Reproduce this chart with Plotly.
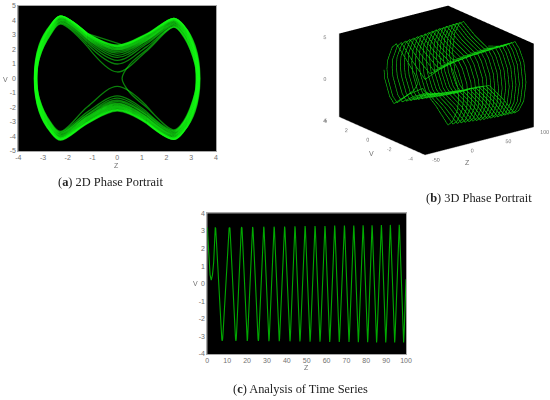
import plotly.graph_objects as go

# Trajectory, one row per half swing: time, Z value, V value
t_rows = [
 [0,0.1,0.25,0.4,0.8,1.4,2.0,2.6,3.2,3.6,3.72,3.88],
 [4,4.21,4.46,4.63,5.12,5.75,6.38,6.87,7.05,7.29],
 [7.5,7.72,7.98,8.17,8.68,9.35,10.02,10.53,10.72,10.98],
 [11.2,11.39,11.62,11.78,12.22,12.8,13.38,13.82,13.98,14.21],
 [14.4,14.57,14.78,14.92,15.33,15.85,16.37,16.78,16.92,17.13],
 [17.3,17.47,17.66,17.8,18.2,18.7,19.2,19.6,19.74,19.93],
 [20.1,20.26,20.45,20.59,20.96,21.45,21.94,22.31,22.45,22.64],
 [22.8,22.97,23.18,23.32,23.73,24.25,24.77,25.18,25.32,25.53],
 [25.7,25.86,26.05,26.19,26.56,27.05,27.54,27.91,28.05,28.24],
 [28.4,28.56,28.74,28.87,29.23,29.7,30.17,30.53,30.66,30.84],
 [31,31.16,31.34,31.47,31.83,32.3,32.77,33.13,33.26,33.44],
 [33.6,33.76,33.94,34.07,34.43,34.9,35.37,35.73,35.86,36.04],
 [36.2,36.36,36.55,36.69,37.06,37.55,38.04,38.41,38.55,38.74],
 [38.9,39.06,39.25,39.39,39.76,40.25,40.74,41.11,41.25,41.44],
 [41.6,41.75,41.93,42.05,42.4,42.85,43.3,43.65,43.78,43.95],
 [44.1,44.25,44.43,44.55,44.9,45.35,45.8,46.15,46.28,46.45],
 [46.6,46.76,46.94,47.07,47.43,47.9,48.37,48.73,48.86,49.04],
 [49.2,49.35,49.53,49.65,50,50.45,50.9,51.25,51.38,51.55],
 [51.7,51.85,52.03,52.15,52.5,52.95,53.4,53.75,53.88,54.05],
 [54.2,54.35,54.53,54.65,55,55.45,55.9,56.25,56.38,56.55],
 [56.7,56.85,57.03,57.15,57.5,57.95,58.4,58.75,58.88,59.05],
 [59.2,59.34,59.51,59.63,59.97,60.4,60.83,61.17,61.29,61.46],
 [61.6,61.75,61.93,62.05,62.4,62.85,63.3,63.65,63.78,63.95],
 [64.1,64.24,64.4,64.51,64.84,65.25,65.66,65.99,66.1,66.26],
 [66.4,66.56,66.74,66.87,67.23,67.7,68.17,68.53,68.66,68.84],
 [69,69.14,69.3,69.41,69.74,70.15,70.56,70.89,71,71.16],
 [71.3,71.44,71.61,71.73,72.07,72.5,72.93,73.27,73.39,73.56],
 [73.7,73.84,74,74.11,74.44,74.85,75.26,75.59,75.7,75.86],
 [76,76.14,76.31,76.43,76.77,77.2,77.63,77.97,78.09,78.26],
 [78.4,78.54,78.7,78.81,79.14,79.55,79.96,80.29,80.4,80.56],
 [80.7,80.83,80.99,81.1,81.4,81.8,82.2,82.5,82.61,82.77],
 [82.9,83.04,83.2,83.31,83.64,84.05,84.46,84.79,84.9,85.06],
 [85.2,85.34,85.51,85.63,85.97,86.4,86.83,87.17,87.29,87.46],
 [87.6,87.73,87.89,88,88.3,88.7,89.1,89.4,89.51,89.67],
 [89.8,89.94,90.1,90.21,90.54,90.95,91.36,91.69,91.8,91.96],
 [92.1,92.23,92.39,92.5,92.8,93.2,93.6,93.9,94.01,94.17],
 [94.3,94.44,94.6,94.71,95.04,95.45,95.86,96.19,96.3,96.46],
 [96.6,96.73,96.89,97,97.3,97.7,98.1,98.4,98.51,98.67],
 [98.8,98.9,99.1,99.25,99.6,100],
]
z_rows = [
 [3.2,3.15,2.7,2.3,1.2,0.5,0.2,0.5,1.2,2.3,2.7,3.15],
 [3.2,3.15,2.7,2.3,1.2,0,-1.2,-2.3,-2.7,-3.15],
 [-3.25,-3.15,-2.7,-2.3,-1.2,0,1.2,2.3,2.7,3.15],
 [3.2,3.15,2.7,2.3,1.2,0,-1.2,-2.3,-2.7,-3.15],
 [-3.25,-3.15,-2.7,-2.3,-1.2,0,1.2,2.3,2.7,3.15],
 [3.22,3.15,2.7,2.3,1.2,0,-1.2,-2.3,-2.7,-3.15],
 [-3.26,-3.15,-2.7,-2.3,-1.2,0,1.2,2.3,2.7,3.15],
 [3.22,3.15,2.7,2.3,1.2,0,-1.2,-2.3,-2.7,-3.15],
 [-3.26,-3.15,-2.7,-2.3,-1.2,0,1.2,2.3,2.7,3.15],
 [3.24,3.15,2.7,2.3,1.2,0,-1.2,-2.3,-2.7,-3.15],
 [-3.27,-3.15,-2.7,-2.3,-1.2,0,1.2,2.3,2.7,3.15],
 [3.24,3.15,2.7,2.3,1.2,0,-1.2,-2.3,-2.7,-3.15],
 [-3.27,-3.15,-2.7,-2.3,-1.2,0,1.2,2.3,2.7,3.15],
 [3.25,3.15,2.7,2.3,1.2,0,-1.2,-2.3,-2.7,-3.15],
 [-3.28,-3.15,-2.7,-2.3,-1.2,0,1.2,2.3,2.7,3.15],
 [3.26,3.15,2.7,2.3,1.2,0,-1.2,-2.3,-2.7,-3.15],
 [-3.29,-3.15,-2.7,-2.3,-1.2,0,1.2,2.3,2.7,3.15],
 [3.27,3.15,2.7,2.3,1.2,0,-1.2,-2.3,-2.7,-3.15],
 [-3.3,-3.15,-2.7,-2.3,-1.2,0,1.2,2.3,2.7,3.15],
 [3.28,3.15,2.7,2.3,1.2,0,-1.2,-2.3,-2.7,-3.15],
 [-3.3,-3.15,-2.7,-2.3,-1.2,0,1.2,2.3,2.7,3.15],
 [3.28,3.15,2.7,2.3,1.2,0,-1.2,-2.3,-2.7,-3.15],
 [-3.31,-3.15,-2.7,-2.3,-1.2,0,1.2,2.3,2.7,3.15],
 [3.3,3.15,2.7,2.3,1.2,0,-1.2,-2.3,-2.7,-3.15],
 [-3.32,-3.15,-2.7,-2.3,-1.2,0,1.2,2.3,2.7,3.15],
 [3.3,3.15,2.7,2.3,1.2,0,-1.2,-2.3,-2.7,-3.15],
 [-3.32,-3.15,-2.7,-2.3,-1.2,0,1.2,2.3,2.7,3.15],
 [3.3,3.15,2.7,2.3,1.2,0,-1.2,-2.3,-2.7,-3.15],
 [-3.33,-3.15,-2.7,-2.3,-1.2,0,1.2,2.3,2.7,3.15],
 [3.32,3.15,2.7,2.3,1.2,0,-1.2,-2.3,-2.7,-3.15],
 [-3.33,-3.15,-2.7,-2.3,-1.2,0,1.2,2.3,2.7,3.15],
 [3.32,3.15,2.7,2.3,1.2,0,-1.2,-2.3,-2.7,-3.15],
 [-3.34,-3.15,-2.7,-2.3,-1.2,0,1.2,2.3,2.7,3.15],
 [3.33,3.15,2.7,2.3,1.2,0,-1.2,-2.3,-2.7,-3.15],
 [-3.34,-3.15,-2.7,-2.3,-1.2,0,1.2,2.3,2.7,3.15],
 [3.34,3.15,2.7,2.3,1.2,0,-1.2,-2.3,-2.7,-3.15],
 [-3.35,-3.15,-2.7,-2.3,-1.2,0,1.2,2.3,2.7,3.15],
 [3.35,3.15,2.7,2.3,1.2,0,-1.2,-2.3,-2.7,-3.15],
 [-3.35,-3.15,-2.7,-2.3,-1.2,0.25],
]
v_rows = [
 [0,-1.0,-2.9,-3.55,-2.0,-0.95,0,0.95,2.0,3.55,2.9,1.0],
 [0,-1.0,-2.95,-3.55,-1.9,-0.55,-1.95,-3.65,-3.0,-1.4],
 [0,1.4,3.0,3.75,2.2,0.45,1.9,3.55,2.85,1.0],
 [0,-1.0,-3.0,-3.6,-2.3,-1.2,-2.3,-3.7,-3.05,-1.4],
 [0,1.4,3.05,3.8,2.35,1.0,2.2,3.6,2.95,1.15],
 [0,-1.15,-3.0,-3.65,-2.4,-1.35,-2.45,-3.75,-3.1,-1.5],
 [0,1.5,3.1,3.85,2.5,1.25,2.4,3.65,3.0,1.15],
 [0,-1.15,-3.05,-3.7,-2.5,-1.5,-2.5,-3.8,-3.15,-1.5],
 [0,1.5,3.15,3.9,2.6,1.45,2.5,3.7,3.1,1.35],
 [0,-1.35,-3.1,-3.75,-2.55,-1.6,-2.6,-3.85,-3.2,-1.6],
 [0,1.6,3.2,3.95,2.7,1.6,2.6,3.75,3.15,1.35],
 [0,-1.35,-3.15,-3.8,-2.65,-1.7,-2.65,-3.9,-3.25,-1.6],
 [0,1.6,3.25,4.0,2.75,1.75,2.65,3.8,3.2,1.4],
 [0,-1.4,-3.2,-3.85,-2.7,-1.75,-2.7,-3.95,-3.3,-1.7],
 [0,1.7,3.3,4.05,2.8,1.85,2.7,3.85,3.25,1.5],
 [0,-1.5,-3.25,-3.9,-2.75,-1.8,-2.75,-4.0,-3.35,-1.75],
 [0,1.75,3.35,4.1,2.85,1.95,2.75,3.9,3.3,1.6],
 [0,-1.6,-3.3,-3.95,-2.8,-1.85,-2.8,-4.05,-3.4,-1.85],
 [0,1.85,3.4,4.15,2.9,2.0,2.8,3.95,3.35,1.7],
 [0,-1.7,-3.35,-4.0,-2.85,-1.9,-2.85,-4.1,-3.45,-1.85],
 [0,1.85,3.45,4.2,2.95,2.05,2.85,4.0,3.4,1.7],
 [0,-1.7,-3.4,-4.05,-2.9,-1.95,-2.9,-4.1,-3.45,-1.95],
 [0,1.95,3.5,4.2,2.95,2.1,2.9,4.05,3.45,1.85],
 [0,-1.85,-3.45,-4.1,-2.95,-2.0,-2.95,-4.15,-3.5,-2.0],
 [0,2.0,3.55,4.25,3.0,2.15,2.95,4.05,3.5,1.85],
 [0,-1.85,-3.5,-4.1,-3.0,-2.05,-3.0,-4.15,-3.55,-2.0],
 [0,2.0,3.55,4.25,3.0,2.2,3.0,4.1,3.55,1.85],
 [0,-1.85,-3.55,-4.15,-3.0,-2.1,-3.0,-4.2,-3.6,-2.1],
 [0,2.1,3.6,4.3,3.05,2.2,3.0,4.1,3.6,2.0],
 [0,-2.0,-3.6,-4.15,-3.05,-2.15,-3.05,-4.2,-3.6,-2.1],
 [0,2.1,3.6,4.3,3.05,2.25,3.05,4.15,3.6,2.0],
 [0,-2.0,-3.6,-4.2,-3.05,-2.15,-3.05,-4.2,-3.65,-2.2],
 [0,2.2,3.65,4.3,3.1,2.25,3.05,4.15,3.65,2.1],
 [0,-2.1,-3.65,-4.2,-3.05,-2.2,-3.05,-4.2,-3.65,-2.2],
 [0,2.2,3.65,4.3,3.1,2.3,3.05,4.15,3.65,2.2],
 [0,-2.2,-3.65,-4.2,-3.1,-2.2,-3.1,-4.25,-3.65,-2.3],
 [0,2.3,3.65,4.3,3.1,2.3,3.1,4.15,3.65,2.3],
 [0,-2.3,-3.65,-4.2,-3.1,-2.25,-3.1,-4.25,-3.7,-2.3],
 [0,2.35,3.7,4.3,3.1,2.3],
]
x_ticks_a = [-4, -3, -2, -1, 0, 1, 2, 3, 4]
y_ticks_a = [-5, -4, -3, -2, -1, 0, 1, 2, 3, 4, 5]
x_ticks_c = [0, 10, 20, 30, 40, 50, 60, 70, 80, 90, 100]
y_ticks_c = [-4, -3, -2, -1, 0, 1, 2, 3, 4]
ticks_3d_v = [-4, -2, 0, 2, 4]
ticks_3d_z = [-50, 0, 50, 100]
ticks_3d_up = [-5, 0, 5]
captions = [("a", "2D Phase Portrait"), ("b", "3D Phase Portrait"), ("c", "Analysis of Time Series")]

W, H = 550, 400
t_all = [a for r in t_rows for a in r]
z_all = [a for r in z_rows for a in r]
v_all = [a for r in v_rows for a in r]

fig = go.Figure()
GREEN = "rgba(20,255,20,0.5)"
# panel a: one trace per swing, cut on a straight stretch, so that overlaps get brighter
starts = [0] + [sum(len(r) for r in t_rows[:i]) + 4 for i in range(1, len(t_rows))]
for i, s in enumerate(starts):
    e = starts[i + 1] + 1 if i + 1 < len(starts) else len(z_all)
    fig.add_trace(go.Scatter(x=z_all[s:e], y=v_all[s:e], mode="lines", xaxis="x", yaxis="y",
                             line=dict(color=GREEN, width=1.3, shape="spline"),
                             showlegend=False, hoverinfo="skip"))
fig.add_trace(go.Scatter(x=t_all, y=z_all, mode="lines", xaxis="x2", yaxis="y2",
                         line=dict(color="#00a800", width=1.1), showlegend=False, hoverinfo="skip"))
fig.add_trace(go.Scatter3d(x=t_all, y=z_all, z=v_all, mode="lines",
                           line=dict(color="#10d010", width=1.2), showlegend=False, hoverinfo="skip"))

font = dict(family="Liberation Sans, Arial, sans-serif", size=7, color="#707070")
def labels(vals):
    return [str(v) for v in vals]
ax = dict(showgrid=False, zeroline=False, showline=True, linecolor="#a8a8a8", linewidth=1, mirror=True,
          tickmode="array", tickfont=font, ticks="", ticklen=0)
font3 = dict(font, size=8)
lab3 = dict(showbackground=True, backgroundcolor="black", showgrid=False, zeroline=False, showline=True,
            linecolor="#a0a0a0", tickfont=font3, ticks="outside", ticklen=0, tickcolor="#a0a0a0",
            showspikes=False, tickmode="array", tickangle=0, title=dict(text=""))
note = dict(xref="paper", yref="paper", showarrow=False, xanchor="center", yanchor="middle")
fig.update_layout(
    width=W, height=H, margin=dict(l=0, r=0, t=0, b=0, pad=0, autoexpand=False), paper_bgcolor="white", plot_bgcolor="black",
    xaxis=dict(ax, domain=[18.3/W, 216/W], range=[-4, 4], tickvals=x_ticks_a, ticktext=labels(x_ticks_a), anchor="y"),
    yaxis=dict(ax, domain=[1-151/H, 1-6/H], range=[-5, 5], tickvals=y_ticks_a, ticktext=labels(y_ticks_a), anchor="x"),
    xaxis2=dict(ax, domain=[207.3/W, 406/W], range=[0, 100], tickvals=x_ticks_c, ticktext=labels(x_ticks_c), anchor="y2"),
    yaxis2=dict(ax, domain=[1-354/H, 1-213.3/H], range=[-4, 4], tickvals=y_ticks_c, ticktext=labels(y_ticks_c), anchor="x2"),
    scene=dict(
        domain=dict(x=[323.4/W, 1], y=[1-172/H, 1]),
        xaxis=dict(lab3, range=[-50, 100], tickvals=ticks_3d_z, ticktext=labels(ticks_3d_z)),
        yaxis=dict(lab3, range=[-4, 4], tickvals=ticks_3d_v, ticktext=labels(ticks_3d_v)),
        zaxis=dict(lab3, range=[-5, 5], tickvals=ticks_3d_up, ticktext=labels(ticks_3d_up)),
        aspectmode="manual", aspectratio=dict(x=1.59, y=1.648, z=1.03),
        camera=dict(projection=dict(type="orthographic"),
                    eye=dict(x=-2.28, y=-3.0, z=1.28), up=dict(x=0, y=0, z=1), center=dict(x=0, y=0, z=-0.07)),
        bgcolor="white",
    ),
    annotations=[
        dict(note, text="V", x=5.5/W, y=1-80/H, font=font),
        dict(note, text="Z", x=116/W, y=1-165/H, font=font),
        dict(note, text="V", x=195/W, y=1-283.5/H, font=font),
        dict(note, text="Z", x=306/W, y=1-367.5/H, font=font),
        dict(note, text="V", x=371/W, y=1-153/H, font=font),
        dict(note, text="Z", x=467/W, y=1-162/H, font=font),
    ] + [
        dict(note, text="(<b>%s</b>) %s" % c, x=x/W, y=1-y/H,
             font=dict(family="Liberation Serif, serif", size=12.4, color="#222222"))
        for c, x, y in zip(captions, [110.5, 478.5, 300.5], [182, 198, 388.5])
    ],
)
fig.write_html("out.html", config=dict(displayModeBar=False),
               post_script="document.body.style.margin='0';document.documentElement.style.overflow='hidden';")
